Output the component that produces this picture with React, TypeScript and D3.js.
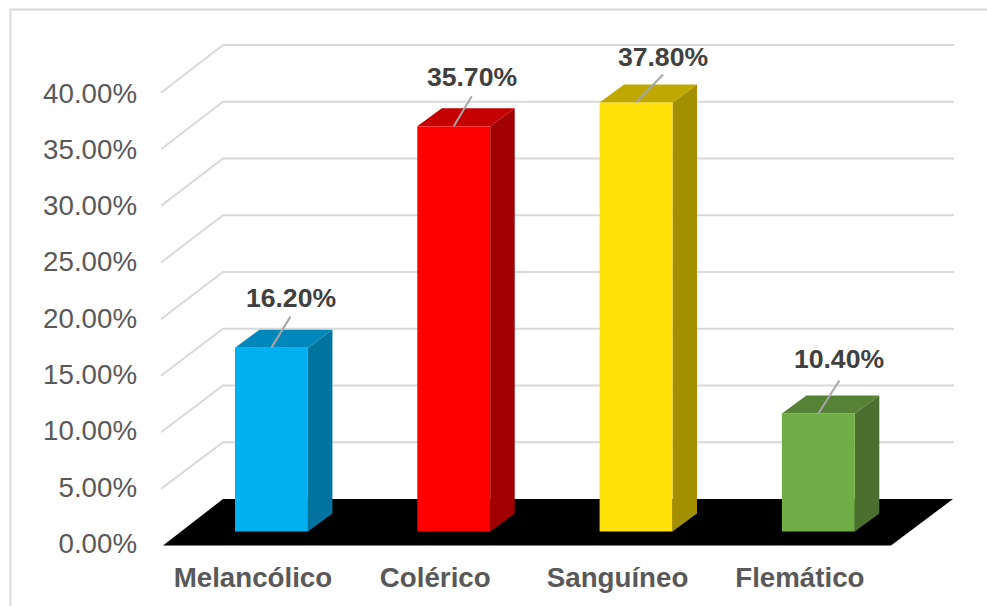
import React from "react";
import * as d3 from "d3";

const categories = ["Melancólico", "Colérico", "Sanguíneo", "Flemático"];
const values = [16.2, 35.7, 37.8, 10.4];
const valueLabels = ["16.20%", "35.70%", "37.80%", "10.40%"];
const ticks = [0, 5, 10, 15, 20, 25, 30, 35, 40];
const faceColors = ["#00b0f0", "#ff0000", "#ffe008", "#70ad47"];
const topColors = ["#0088ba", "#c40000", "#bfa800", "#558235"];
const sideColors = ["#00739f", "#a00000", "#a39000", "#4a6f2e"];
const labelAnchors = [
  { dx: 19, dy: -31, lx: 291, ly: 307 },
  { dx: 18, dy: -30, lx: 472, ly: 86 },
  { dx: 27, dy: -28, lx: 663, ly: 66 },
  { dx: 21, dy: -33, lx: 839, ly: 368 },
];

const W = 987;
const H = 606;
const FONT = "'Liberation Sans', Arial, sans-serif";

export default function App() {
  const yFront = d3.scaleLinear().domain([0, 40]).range([545.5, 92.7]);
  const yBack = d3.scaleLinear().domain([0, 40]).range([499, 45]);
  const yBar = d3.scaleLinear().domain([0, 40]).range([531.5, 77.5]);
  const yLabel = d3.scaleLinear().domain([0, 40]).range([553, 102.5]);
  const x = d3
    .scaleBand<string>()
    .domain(categories)
    .range([180.3, 909.5])
    .paddingInner(0.6)
    .paddingOuter(0.3);
  const dX = 24.5;
  const dY = 18;
  const poly = (p: [number, number][]) => d3.line()(p) + "Z";

  return (
    <svg
      width={W}
      height={H}
      viewBox={`0 0 ${W} ${H}`}
      style={{ position: "absolute", left: 0, top: 0, background: "#fff" }}
      fontFamily={FONT}
    >
      <path d={`M10.5 606V9.5H987`} fill="none" stroke="#d9d9d9" strokeWidth={2} />

      {ticks.map((t) => (
        <g key={t} stroke="#d9d9d9" strokeWidth={2} fill="none">
          {t > 0 && (
            <path
              d={
                d3.line()([
                  [161, yFront(t)],
                  [223, yBack(t)],
                  [954, yBack(t)],
                ]) as string
              }
            />
          )}
        </g>
      ))}

      <path
        d={poly([
          [163, 545.5],
          [223, yBack(0)],
          [953, yBack(0)],
          [891, 545.5],
        ])}
        fill="#000"
      />

      {ticks.map((t) => (
        <text
          key={t}
          x={137}
          y={yLabel(t)}
          textAnchor="end"
          fontSize={27.7}
          fill="#595959"
        >
          {t.toFixed(2)}%
        </text>
      ))}

      {categories.map((c, i) => {
        const x0 = x(c) as number;
        const x1 = x0 + x.bandwidth();
        const y0 = yBar(0);
        const y1 = yBar(values[i]);
        return (
          <g key={c}>
            <path
              d={poly([
                [x1, y0],
                [x1 + dX, y0 - dY],
                [x1 + dX, y1 - dY],
                [x1, y1],
              ])}
              fill={sideColors[i]}
            />
            <path
              d={poly([
                [x0, y1],
                [x0 + dX, y1 - dY],
                [x1 + dX, y1 - dY],
                [x1, y1],
              ])}
              fill={topColors[i]}
            />
            <rect x={x0} y={y1} width={x1 - x0} height={y0 - y1} fill={faceColors[i]} />
            <line
              x1={(x0 + x1) / 2}
              y1={y1}
              x2={(x0 + x1) / 2 + labelAnchors[i].dx}
              y2={y1 + labelAnchors[i].dy}
              stroke="#a6a6a6"
              strokeWidth={2}
            />
            <text
              x={labelAnchors[i].lx}
              y={labelAnchors[i].ly}
              textAnchor="middle"
              fontSize={26.6}
              fontWeight="bold"
              fill="#404040"
            >
              {valueLabels[i]}
            </text>
            <text
              x={(x0 + x1) / 2 - 18.5}
              y={587}
              textAnchor="middle"
              fontSize={27.7}
              fontWeight="bold"
              fill="#595959"
            >
              {c}
            </text>
          </g>
        );
      })}
    </svg>
  );
}
